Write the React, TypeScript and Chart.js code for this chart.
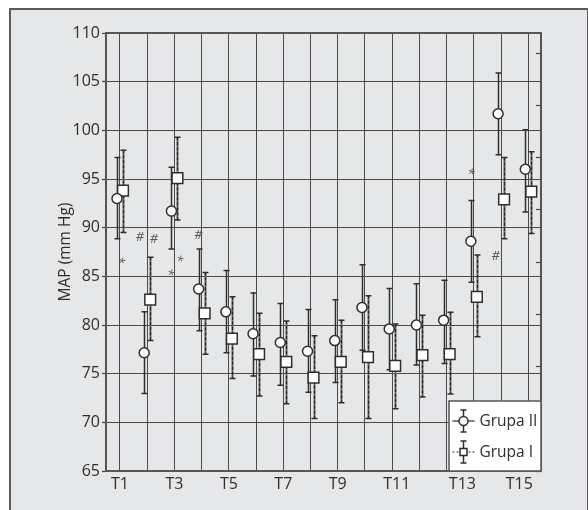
import React, { useEffect, useRef } from 'react';
import { Chart, registerables } from 'chart.js';

Chart.register(...registerables);

// ---- data ----
const timePoints = ['T1', 'T2', 'T3', 'T4', 'T5', 'T6', 'T7', 'T8', 'T9', 'T10', 'T11', 'T12', 'T13', 'T14', 'T15', 'T16'];

const grupaIIMean = [93.0, 77.15, 91.7, 83.7, 81.35, 79.1, 78.2, 77.3, 78.4, 81.8, 79.6, 80.0, 80.5, 88.6, 101.7, 96.0];
const grupaIIHigh = [97.2, 81.35, 96.2, 87.8, 85.6, 83.3, 82.2, 81.6, 82.6, 86.2, 83.75, 84.25, 84.6, 92.8, 105.9, 100.05];
const grupaIILow = [88.85, 72.97, 87.8, 79.4, 77.15, 74.75, 73.8, 73.1, 74.1, 77.4, 75.4, 75.9, 76.05, 84.4, 97.5, 91.6];

const grupaIMean = [93.8, 82.6, 95.1, 81.2, 78.6, 77.0, 76.2, 74.6, 76.2, 76.7, 75.8, 76.9, 77.0, 82.9, 92.9, 93.7];
const grupaIHigh = [97.95, 86.96, 99.3, 85.4, 82.9, 81.2, 80.4, 78.9, 80.5, 83.0, 80.1, 81.0, 81.3, 87.2, 97.2, 97.8];
const grupaILow = [89.5, 78.4, 90.8, 77.0, 74.5, 72.7, 71.9, 70.4, 72.0, 70.4, 71.4, 72.6, 72.9, 78.8, 88.85, 89.4];

const xTickValues = [1, 3, 5, 7, 9, 11.17, 13.58, 15.67];
const xTickLabels = ['T1', 'T3', 'T5', 'T7', 'T9', 'T11', 'T13', 'T15'];
const xGridValues = [1, 2, 3, 4, 5, 6, 7, 8, 9, 10, 11, 12, 13, 14, 15, 16];
const rightTickValues = [0, 1, 2, 3, 4, 5, 6, 7, 8];

const annotationX = [1.06, 1.73, 2.25, 2.87, 3.2, 3.88, 13.9, 14.8];
const annotationY = [86.3, 89.05, 88.85, 85.1, 86.55, 89.2, 95.45, 87.1];
const annotationText = ['*', '#', '#', '*', '*', '#', '*', '#'];

const seriesLabels = ['Grupa II', 'Grupa I'];

// ---- style ----
const FONT = "'Open Sans', 'Noto Sans', sans-serif";
const DARK = '#2e2e2e';
const AXIS = '#555555';
const GROUP_OFFSET = 0.11;

const errorBarPlugin = {
  id: 'errorBars',
  beforeDatasetsDraw(chart: any) {
    const ctx = chart.ctx;
    const y = chart.scales.y;
    const series = [
      { lo: grupaIILow, hi: grupaIIHigh, ds: 0, dashed: false },
      { lo: grupaILow, hi: grupaIHigh, ds: 1, dashed: true },
    ];
    ctx.save();
    series.forEach((s) => {
      const meta = chart.getDatasetMeta(s.ds);
      meta.data.forEach((pt: any, i: number) => {
        const x = Math.round(pt.x) + 0.5;
        const yh = y.getPixelForValue(s.hi[i]);
        const yl = y.getPixelForValue(s.lo[i]);
        if (s.dashed) {
          ctx.strokeStyle = '#666';
          ctx.lineWidth = 2;
          ctx.setLineDash([]);
          ctx.beginPath();
          ctx.moveTo(x, yh);
          ctx.lineTo(x, yl);
          ctx.stroke();
          ctx.strokeStyle = '#222';
          ctx.lineWidth = 1.2;
          ctx.setLineDash([3, 2]);
          ctx.beginPath();
          ctx.moveTo(x, yh);
          ctx.lineTo(x, yl);
          ctx.stroke();
        } else {
          ctx.strokeStyle = DARK;
          ctx.lineWidth = 1.5;
          ctx.setLineDash([]);
          ctx.beginPath();
          ctx.moveTo(x, yh);
          ctx.lineTo(x, yl);
          ctx.stroke();
        }
        ctx.setLineDash([]);
        ctx.strokeStyle = DARK;
        ctx.lineWidth = 1.5;
        ctx.beginPath();
        ctx.moveTo(x - 3, yh);
        ctx.lineTo(x + 3, yh);
        ctx.moveTo(x - 3, yl);
        ctx.lineTo(x + 3, yl);
        ctx.stroke();
      });
    });
    ctx.restore();
  },
};

const annotationPlugin = {
  id: 'sigMarks',
  afterDatasetsDraw(chart: any) {
    const ctx = chart.ctx;
    const xs = chart.scales.x;
    const ys = chart.scales.y;
    ctx.save();
    ctx.fillStyle = '#555';
    ctx.font = `italic 13px ${FONT}`;
    ctx.textAlign = 'center';
    ctx.textBaseline = 'middle';
    annotationText.forEach((t, i) => {
      ctx.fillText(t, xs.getPixelForValue(annotationX[i]), ys.getPixelForValue(annotationY[i]));
    });
    ctx.restore();
  },
};

const legendPlugin = {
  id: 'boxLegend',
  afterDraw(chart: any) {
    const ctx = chart.ctx;
    const area = chart.chartArea;
    const w = 92;
    const h = 70;
    const left = area.right - w;
    const top = area.bottom - h;
    ctx.save();
    ctx.fillStyle = '#ffffff';
    ctx.fillRect(left, top, w, h);
    ctx.strokeStyle = AXIS;
    ctx.lineWidth = 1.5;
    ctx.strokeRect(left, top, w, h);

    const gx = left + 14.5;
    const rows = [top + 20, top + 51];
    rows.forEach((cy, i) => {
      ctx.strokeStyle = DARK;
      ctx.lineWidth = 1.2;
      ctx.setLineDash(i === 0 ? [] : [2, 2]);
      ctx.beginPath();
      ctx.moveTo(gx - 11, cy);
      ctx.lineTo(gx + 11, cy);
      ctx.stroke();
      ctx.setLineDash([]);
      ctx.lineWidth = 1.5;
      ctx.beginPath();
      ctx.moveTo(gx, cy - 11);
      ctx.lineTo(gx, cy + 11);
      ctx.moveTo(gx - 3, cy - 11);
      ctx.lineTo(gx + 3, cy - 11);
      ctx.moveTo(gx - 3, cy + 11);
      ctx.lineTo(gx + 3, cy + 11);
      ctx.stroke();
      ctx.fillStyle = '#fff';
      ctx.beginPath();
      if (i === 0) ctx.arc(gx, cy, 4.5, 0, Math.PI * 2);
      else ctx.rect(gx - 3.5, cy - 3.5, 7, 7);
      ctx.fill();
      ctx.stroke();
      ctx.fillStyle = DARK;
      ctx.font = `15.5px ${FONT}`;
      ctx.textAlign = 'left';
      ctx.textBaseline = 'middle';
      ctx.fillText(seriesLabels[i], gx + 16, cy + 1);
    });
    ctx.restore();
  },
};

export default function App() {
  const ref = useRef<HTMLCanvasElement>(null);

  useEffect(() => {
    if (!ref.current) return;
    Chart.defaults.font.family = FONT;
    Chart.defaults.font.size = 16;
    Chart.defaults.color = DARK;

    const chart = new Chart(ref.current, {
      type: 'scatter',
      data: {
        datasets: [
          {
            label: seriesLabels[0],
            data: timePoints.map((_, i) => ({ x: xGridValues[i] - GROUP_OFFSET, y: grupaIIMean[i] })),
            pointStyle: 'circle',
            pointRadius: 5,
            pointBackgroundColor: '#ffffff',
            pointBorderColor: DARK,
            pointBorderWidth: 1.5,
            showLine: false,
          },
          {
            label: seriesLabels[1],
            data: timePoints.map((_, i) => ({ x: xGridValues[i] + GROUP_OFFSET, y: grupaIMean[i] })),
            pointStyle: 'rect',
            pointRadius: 7.6,
            pointBackgroundColor: '#ffffff',
            pointBorderColor: DARK,
            pointBorderWidth: 1.5,
            showLine: false,
          },
        ],
      },
      options: {
        responsive: false,
        animation: false,
        devicePixelRatio: 1,
        layout: { padding: { left: 41, top: 23, right: 45, bottom: 9 } },
        plugins: {
          legend: { display: false },
          tooltip: { enabled: false },
        },
        scales: {
          x: {
            type: 'linear',
            position: 'bottom',
            min: 0.486,
            max: 16.467,
            afterBuildTicks: (scale: any) => {
              scale.ticks = xTickValues.map((v) => ({ value: v }));
            },
            afterFit: (scale: any) => {
              scale.height = 30;
            },
            ticks: {
              autoSkip: false,
              maxRotation: 0,
              padding: 4,
              color: DARK,
              font: { size: 16 },
              callback: (_v: any, i: number) => xTickLabels[i],
            },
            grid: { display: false, drawTicks: false },
            border: { display: true, color: AXIS, width: 2 },
          },
          xg: {
            type: 'linear',
            position: 'top',
            min: 0.486,
            max: 16.467,
            afterBuildTicks: (scale: any) => {
              scale.ticks = xGridValues.map((v) => ({ value: v }));
            },
            afterFit: (scale: any) => {
              scale.height = 0;
            },
            ticks: { display: false },
            grid: { color: '#4a4a4a', lineWidth: 1, borderDash: [3, 2], drawTicks: false },
            border: { display: true, color: AXIS, width: 2 },
          },
          y: {
            type: 'linear',
            position: 'left',
            min: 65,
            max: 110,
            afterFit: (scale: any) => {
              scale.width = 54;
            },
            ticks: { stepSize: 5, padding: 2, color: DARK, font: { size: 16 } },
            grid: {
              color: '#4a4a4a',
              lineWidth: 1,
              borderDash: [3, 2],
              drawTicks: true,
              tickLength: 4,
              tickBorderDash: [],
              tickColor: '#444',
              tickWidth: 1.2,
            },
            border: { display: true, color: AXIS, width: 2 },
            title: {
              display: true,
              text: 'MAP (mm Hg)',
              color: DARK,
              font: { size: 15.5 },
              padding: { top: 4, bottom: 4 },
            },
          },
          y2: {
            type: 'linear',
            position: 'right',
            min: 0,
            max: 8.39,
            afterBuildTicks: (scale: any) => {
              scale.ticks = rightTickValues.map((v) => ({ value: v }));
            },
            afterFit: (scale: any) => {
              scale.width = 0;
            },
            ticks: { display: false },
            grid: {
              drawOnChartArea: false,
              drawTicks: true,
              tickLength: -5,
              tickColor: '#444',
              tickWidth: 1.2,
            },
            border: { display: true, color: AXIS, width: 2 },
          },
        },
      },
      plugins: [errorBarPlugin, annotationPlugin, legendPlugin],
    } as any);

    return () => chart.destroy();
  }, []);

  return (
    <div
      style={{
        position: 'fixed',
        left: 9,
        top: 8,
        width: 580,
        height: 530,
        boxSizing: 'border-box',
        background: '#e6e7e8',
        border: '2px solid #5b5b5b',
      }}
    >
      <canvas
        ref={ref}
        width={575}
        height={500}
        style={{ position: 'absolute', left: 0, top: 0, width: 575, height: 500, background: 'transparent' }}
      />
    </div>
  );
}
